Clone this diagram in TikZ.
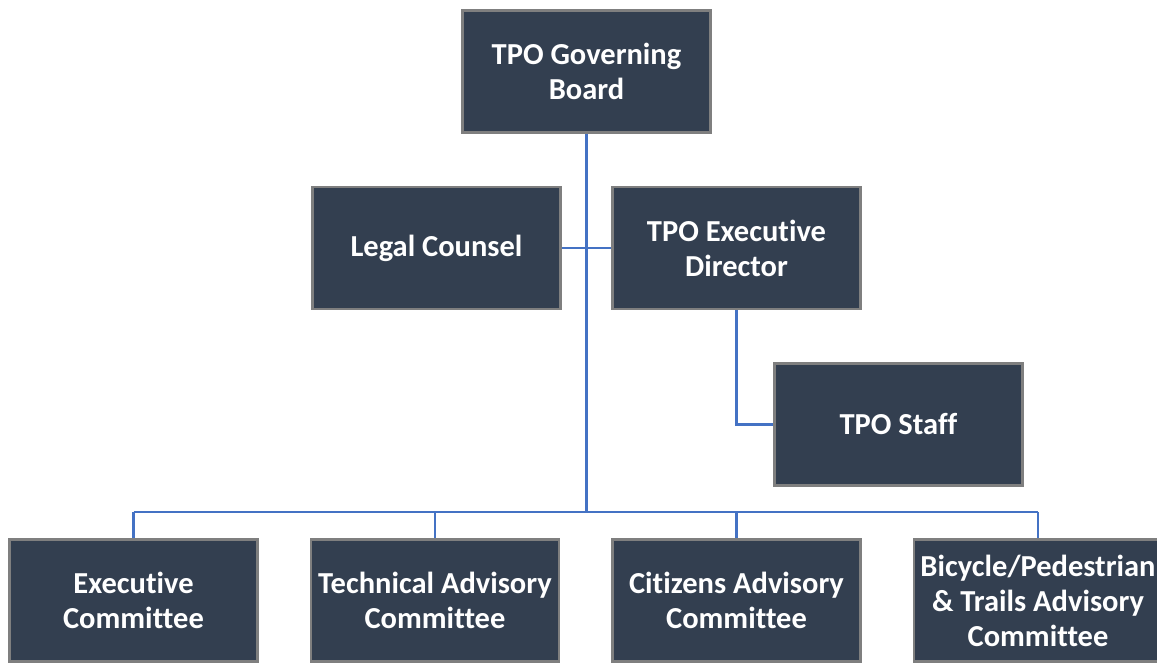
\documentclass[tikz,border=0pt]{standalone}
\usepackage{fontspec}
\setmainfont{Carlito}[Ligatures=NoCommon]
\usepackage{tikz}
\usetikzlibrary{positioning, calc}

\definecolor{boxfill}{HTML}{333F50}
\definecolor{boxline}{HTML}{7F7F7F}
\definecolor{linkblue}{HTML}{4472C4}

\begin{document}
\begin{tikzpicture}[
    unit/.style={rectangle, draw=boxline, fill=boxfill, line width=2.5pt, minimum width=248pt, minimum height=122pt, text=white, align=center, font=\fontsize{30.5}{35}\selectfont\bfseries},
    link/.style={draw=linkblue, line width=2.4pt}
]
\useasboundingbox (0,0) rectangle (1157pt,-662pt);

% Top of the chart
\node[unit] (board) at (586.5pt,-71.5pt) {TPO Governing\\Board};
\node[unit, below=52pt of board, xshift=-150pt] (legal) {Legal Counsel};
\node[unit, below=52pt of board, xshift=150pt] (director) {TPO Executive\\Director};
\node[unit, below=52pt of director, xshift=162pt] (staff) {TPO Staff};

% Committees
\node[unit, below=228pt of director] (citizens) {Citizens Advisory\\Committee};
\node[unit, left=51pt of citizens] (technical) {Technical Advisory\\Committee};
\node[unit, left=51pt of technical] (executive) {Executive\\Committee};
\node[unit, right=51pt of citizens] (bicycle) {Bicycle/Pedestrian\\\& Trails Advisory\\Committee};

\coordinate (bus) at ($(citizens.north)+(0,26pt)$);

% Connectors
\draw[link] (board.south) -- (board.south |- bus);
\draw[link] (legal.east) -- (director.west);
\draw[link] (director.south) |- (staff.west);
\draw[link] (executive.north |- bus) -- (bicycle.north |- bus);
\foreach \n in {executive, technical, citizens, bicycle}
    \draw[link] (\n.north) -- (\n.north |- bus);

\end{tikzpicture}
\end{document}
